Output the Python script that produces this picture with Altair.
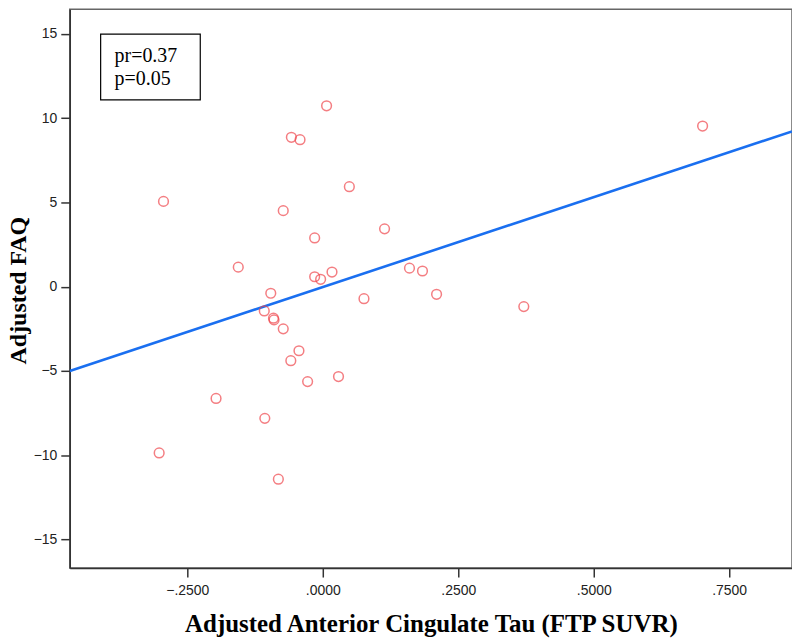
import altair as alt
import pandas as pd

# Scatter points (Adjusted Anterior Cingulate Tau, Adjusted FAQ)
tau = [-0.294, 0.007, -0.058, -0.042, 0.049, -0.073, 0.114, -0.015, -0.156,
       -0.015, -0.004, 0.017, -0.096, 0.076, -0.108, 0.701, 0.160, 0.184,
       0.210, 0.371, -0.091, -0.090, -0.073, -0.044, -0.059, -0.028, 0.029,
       -0.197, -0.107, -0.302, -0.082]
faq = [5.06, 10.73, 8.86, 8.72, 5.93, 4.51, 3.43, 2.89, 1.16,
       0.59, 0.44, 0.87, -0.39, -0.71, -1.44, 9.53, 1.10, 0.93,
       -0.45, -1.18, -1.87, -1.97, -2.50, -3.80, -4.39, -5.63, -5.33,
       -6.63, -7.81, -9.86, -11.42]

# Fit line endpoints
fit_x = [-0.467, 0.866]
fit_y = [-5.0, 9.21]

x_ticks = [-0.25, 0.0, 0.25, 0.5, 0.75]
y_ticks = [-15, -10, -5, 0, 5, 10, 15]
x_domain = [-0.467, 0.866]
y_domain = [-16.69, 16.46]

ann_lines = ["pr=0.37", "p=0.05"]

pts = pd.DataFrame({"tau": tau, "faq": faq})
fit = pd.DataFrame({"tau": fit_x, "faq": fit_y})

xs = alt.Scale(domain=x_domain, nice=False, zero=False)
ys = alt.Scale(domain=y_domain, nice=False, zero=False)

label_font = "Liberation Sans Narrow, Liberation Sans, Arial"
title_font = "Liberation Serif, Times New Roman"

xaxis = alt.Axis(values=x_ticks, format=".4f", labelExpr="replace(datum.label, '0.', '.')",
                 title="Adjusted Anterior Cingulate Tau (FTP SUVR)", grid=False,
                 tickSize=9, labelPadding=7, titlePadding=14, titleFontSize=25)
yaxis = alt.Axis(values=y_ticks, format="d", title="Adjusted FAQ", grid=False,
                 tickSize=9, labelPadding=4, titleFontSize=24,
                 titleX=-44, titleY=282, titleAngle=270, titleBaseline="alphabetic",
                 titleAlign="center")

points = alt.Chart(pts).mark_point(shape="circle", filled=False, size=95,
                                   color="#f0484e", strokeWidth=1.5).encode(
    x=alt.X("tau:Q", scale=xs, axis=xaxis),
    y=alt.Y("faq:Q", scale=ys, axis=yaxis),
)

line = alt.Chart(fit).mark_line(color="#1a6ff0", strokeWidth=2.6, clip=True).encode(
    x=alt.X("tau:Q", scale=xs),
    y=alt.Y("faq:Q", scale=ys),
)

one = pd.DataFrame({"a": [0]})
box = alt.Chart(one).mark_rect(
    fill="white", stroke="black", strokeWidth=1.2).encode(
    x=alt.value(31), x2=alt.value(131), y=alt.value(25), y2=alt.value(91))

txt1 = alt.Chart(one).mark_text(
    align="left", baseline="alphabetic", font=title_font, fontSize=20, color="black",
    text=ann_lines[0]).encode(x=alt.value(45), y=alt.value(53))
txt2 = alt.Chart(one).mark_text(
    align="left", baseline="alphabetic", font=title_font, fontSize=20, color="black",
    text=ann_lines[1]).encode(x=alt.value(45), y=alt.value(76))

chart = alt.layer(line, points, box, txt1, txt2).properties(
    width=725, height=561,
    autosize=alt.AutoSizeParams(type="none"),
    padding={"left": 62, "top": 0, "right": 0, "bottom": 70},
).configure_view(stroke="#666666", strokeWidth=1.5).configure_axis(
    domainColor="#333333", tickColor="#333333", domainWidth=1.5, tickWidth=1.5,
    labelFont=label_font, labelFontSize=14, labelColor="#222222",
    titleFont=title_font, titleFontWeight="bold", titleColor="black",
)

chart.save("out.html", embed_options={"renderer": "svg", "actions": False})
